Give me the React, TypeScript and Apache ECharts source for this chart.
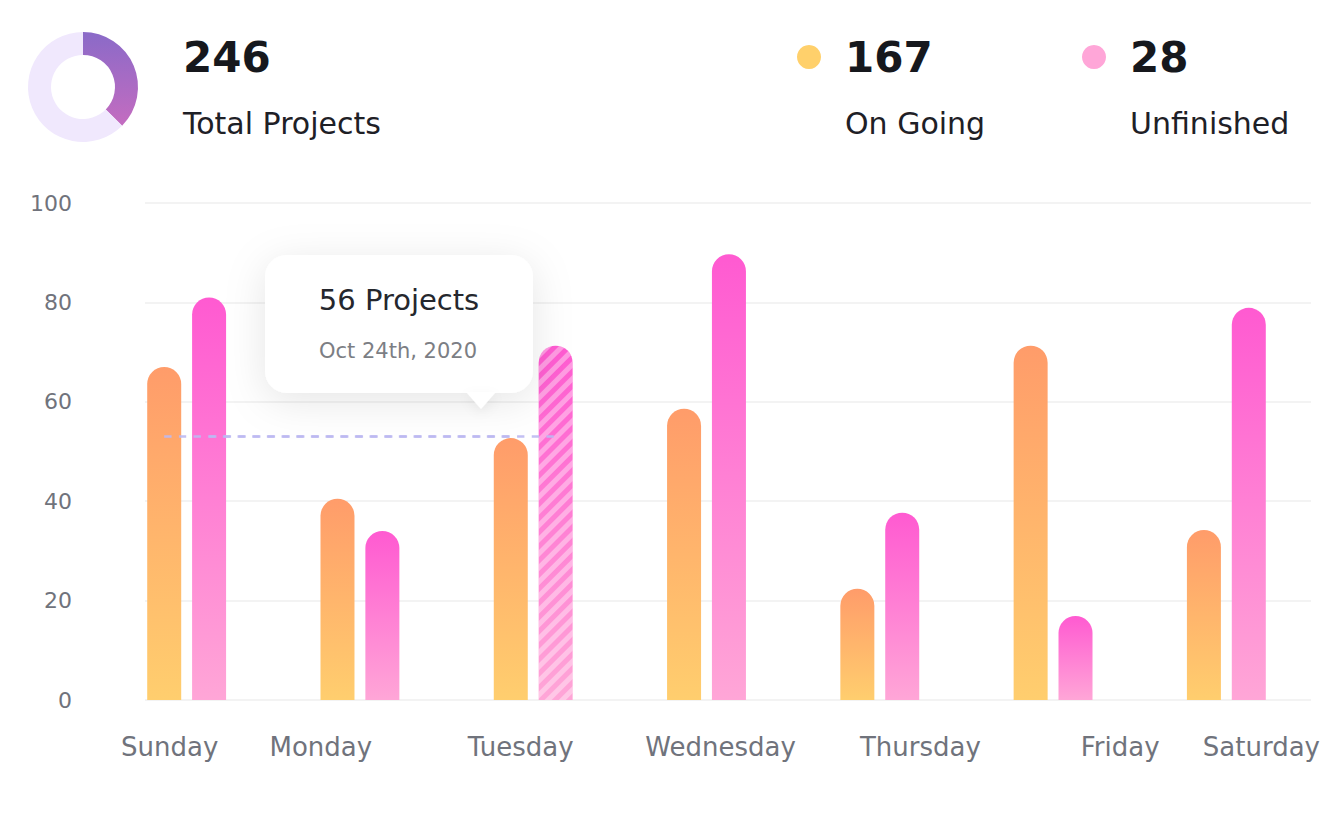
import React, { useEffect, useRef } from "react";
import * as echarts from "echarts";

const days = ["Sunday", "Monday", "Tuesday", "Wednesday", "Thursday", "Friday", "Saturday"];
const onGoing = [67, 40.5, 52.7, 58.6, 22.4, 71.3, 34.2];
const unfinished = [81, 34, 71.3, 89.7, 37.7, 16.9, 78.9];
const yTicks = { min: 0, max: 100, interval: 20 };
const highlightIndex = 2; // Tuesday (striped)
const guideValue = 53;
const donutValues = [92, 154];
const totalProjects = 246;
const onGoingTotal = 167;
const unfinishedTotal = 28;
const tooltipTitle = "56 Projects";
const tooltipDate = "Oct 24th, 2020";

const FONT = "'DejaVu Sans', 'Noto Sans', sans-serif";

export default function App() {
  const ref = useRef<HTMLDivElement>(null);
  useEffect(() => {
    if (!ref.current) return;
    const chart = echarts.init(ref.current, undefined, { renderer: "svg" });
    const grad = (top: string, bottom: string) =>
      new echarts.graphic.LinearGradient(0, 0, 0, 1, [
        { offset: 0, color: top },
        { offset: 1, color: bottom },
      ]);
    const orangeGrad = grad("#FF9C6A", "#FFCE6E");
    const pinkGrad = grad("#FF5AD1", "#FFA6D7");

    const gridTop = 203;
    const gridBottom = 113;
    const guideStyle = { type: [7.333, 7.333], color: "#BDB9F2", width: 2.5, opacity: 0.9 };
    const guideLine = () => ({
      silent: true,
      symbol: "none",
      label: { show: false },
      lineStyle: guideStyle,
      data: [[{ xAxis: days[0], yAxis: guideValue }, { xAxis: days[highlightIndex], yAxis: guideValue }]],
    });

    chart.setOption({
      animation: false,
      backgroundColor: "#ffffff",
      textStyle: { fontFamily: FONT },
      grid: [
        { left: 100, right: 26, top: gridTop, bottom: gridBottom },
        { left: 145, right: 28, top: gridTop, bottom: gridBottom },
        { left: 121, right: 19, top: gridTop, bottom: gridBottom },
      ],
      xAxis: [
        { type: "category", gridIndex: 0, data: days, show: false },
        { type: "category", gridIndex: 1, data: days, show: false },
        {
          type: "category",
          gridIndex: 2,
          data: days,
          boundaryGap: false,
          axisLine: { show: false },
          axisTick: { show: false },
          splitLine: { show: false },
          axisLabel: {
            fontSize: 26,
            color: "#70737C",
            margin: 34,
            fontFamily: FONT,
            alignMinLabel: "left",
            alignMaxLabel: "right",
          },
        },
      ],
      yAxis: [
        { type: "value", gridIndex: 0, ...yTicks, show: false },
        {
          type: "value",
          gridIndex: 1,
          ...yTicks,
          axisLine: { show: false },
          axisTick: { show: false },
          splitLine: { lineStyle: { color: "#EFEFEF", width: 1.5 } },
          axisLabel: { fontSize: 22, color: "#70737C", margin: 73, fontFamily: FONT },
        },
        { type: "value", gridIndex: 2, ...yTicks, show: false },
      ],
      series: [
        {
          type: "pie",
          center: [83, 87],
          radius: [32, 55],
          startAngle: 90,
          clockwise: true,
          silent: true,
          label: { show: false },
          labelLine: { show: false },
          data: [
            { value: donutValues[0], itemStyle: { color: new echarts.graphic.LinearGradient(0, 0, 0, 1, [{ offset: 0, color: "#8A6AC8" }, { offset: 1, color: "#C46CC0" }]) } },
            { value: donutValues[1], itemStyle: { color: "#F0E8FD" } },
          ],
        },
        {
          type: "bar",
          name: "On Going",
          xAxisIndex: 0,
          yAxisIndex: 0,
          barWidth: 34,
          barGap: "32%",
          itemStyle: { color: orangeGrad, borderRadius: [17, 17, 0, 0] },
          data: onGoing,
          markLine: guideLine(),
          z: 3,
        },
        {
          type: "bar",
          name: "Unfinished",
          xAxisIndex: 0,
          yAxisIndex: 0,
          barWidth: 34,
          itemStyle: { color: pinkGrad, borderRadius: [17, 17, 0, 0] },
          data: unfinished.map((v, i) =>
            i === highlightIndex
              ? {
                  value: v,
                  itemStyle: {
                    decal: {
                      symbol: "rect",
                      symbolSize: 1,
                      dashArrayX: [1, 0],
                      dashArrayY: [5, 5],
                      rotation: -Math.PI / 4,
                      color: "rgba(255,255,255,0.38)",
                    },
                  },
                }
              : v
          ),
          markLine: guideLine(),
          z: 3,
        },
      ],
      graphic: [
        { type: "text", x: 183, y: 57, style: { text: String(totalProjects), font: `bold 42px ${FONT}`, fill: "#16181D", verticalAlign: "middle" } },
        { type: "text", x: 183, y: 123, style: { text: "Total Projects", font: `400 30px ${FONT}`, fill: "#1E2026", verticalAlign: "middle" } },
        { type: "circle", shape: { cx: 809, cy: 57, r: 12 }, style: { fill: "#FFD06B" } },
        { type: "text", x: 845, y: 57, style: { text: String(onGoingTotal), font: `bold 42px ${FONT}`, fill: "#16181D", verticalAlign: "middle" } },
        { type: "text", x: 845, y: 123, style: { text: "On Going", font: `400 30px ${FONT}`, fill: "#1E2026", verticalAlign: "middle" } },
        { type: "circle", shape: { cx: 1094, cy: 57, r: 12 }, style: { fill: "#FFA6D8" } },
        { type: "text", x: 1130, y: 57, style: { text: String(unfinishedTotal), font: `bold 42px ${FONT}`, fill: "#16181D", verticalAlign: "middle" } },
        { type: "text", x: 1130, y: 123, style: { text: "Unfinished", font: `400 30px ${FONT}`, fill: "#1E2026", verticalAlign: "middle" } },
        {
          type: "rect",
          z: 100,
          shape: { x: 265, y: 255, width: 268, height: 138, r: 22 },
          style: { fill: "#ffffff", shadowBlur: 40, shadowColor: "rgba(0,0,0,0.10)", shadowOffsetY: 8 },
        },
        {
          type: "polygon",
          z: 100,
          shape: { points: [[466, 392], [496, 392], [481, 409]] },
          style: { fill: "#ffffff", shadowBlur: 12, shadowColor: "rgba(0,0,0,0.06)", shadowOffsetY: 4 },
        },
        {
          type: "text",
          z: 101,
          x: 399,
          y: 300,
          style: { text: tooltipTitle, font: `400 29px ${FONT}`, fill: "#25272D", align: "center", verticalAlign: "middle" },
        },
        {
          type: "text",
          z: 101,
          x: 398,
          y: 351,
          style: { text: tooltipDate, font: `400 21px ${FONT}`, fill: "#7C7E84", align: "center", verticalAlign: "middle" },
        },
      ],
    });
    return () => chart.dispose();
  }, []);
  return (
    <div
      ref={ref}
      style={{ position: "absolute", left: 0, top: 0, width: 1339, height: 813, background: "#fff" }}
    />
  );
}
